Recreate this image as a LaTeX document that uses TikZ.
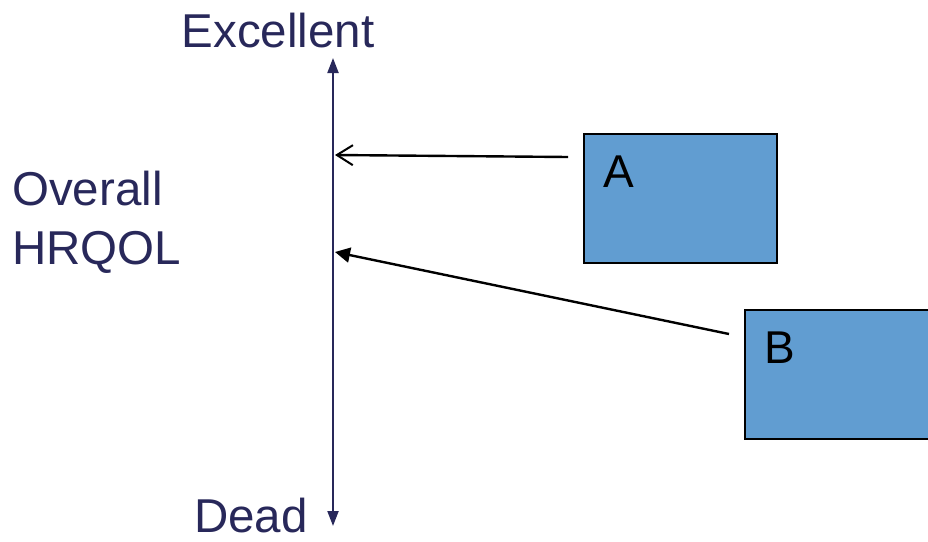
\documentclass[tikz,border=0pt]{standalone}
\usepackage{fontspec}
\setmainfont{Liberation Sans}
\usetikzlibrary{arrows.meta}
\definecolor{navy}{HTML}{28285A}
\definecolor{boxblue}{HTML}{619DD1}
\tikzset{
  axislabel/.style={text=navy, font=\fontsize{47.5}{59}\selectfont, inner sep=0pt, align=left},
  boxlabel/.style={text=black, font=\fontsize{46}{54}\selectfont, inner sep=0pt, anchor=north west},
  scorebox/.style={draw=black, line width=2pt, fill=boxblue, minimum width=193pt, minimum height=129pt, inner sep=0pt},
  pointer/.style={draw=black, line width=2.4pt},
}
\begin{document}
\begin{tikzpicture}[x=1pt,y=-1pt]
\useasboundingbox (0,0) rectangle (928,541);
% vertical scale
\coordinate (top) at (333,58);
\coordinate (bottom) at (333,526);
\draw[navy, line width=2pt, {Triangle[length=15pt,width=11pt]}-{Triangle[length=15pt,width=11pt]}] (bottom) -- (top);
\coordinate (markA) at (335,155);
\coordinate (markB) at (335,252);
% axis texts
\node[axislabel] (exc) at (278,31) {Excellent};
\node[axislabel] (dead) at (251,516) {Dead};
\node[axislabel, anchor=west] (hrqol) at (12,222) {Overall\\HRQOL};
% boxes
\node[scorebox] (boxA) at (680.5,198.5) {};
\node[boxlabel] (labA) at ([xshift=20pt,yshift=-23pt]boxA.north west) {A};
\node[scorebox] (boxB) at (841.5,374) {};
\node[boxlabel] (labB) at ([xshift=20pt,yshift=-23pt]boxB.north west) {B};
% pointers from the boxes to the scale
\coordinate (startA) at (568,157);
\coordinate (startB) at (729,334);
\draw[pointer, -{Straight Barb[length=16pt,width=20pt,line width=2pt]}] (startA) -- (markA);
\draw[pointer, -{Triangle[length=15pt,width=15pt]}] (startB) -- (markB);
\end{tikzpicture}
\end{document}
